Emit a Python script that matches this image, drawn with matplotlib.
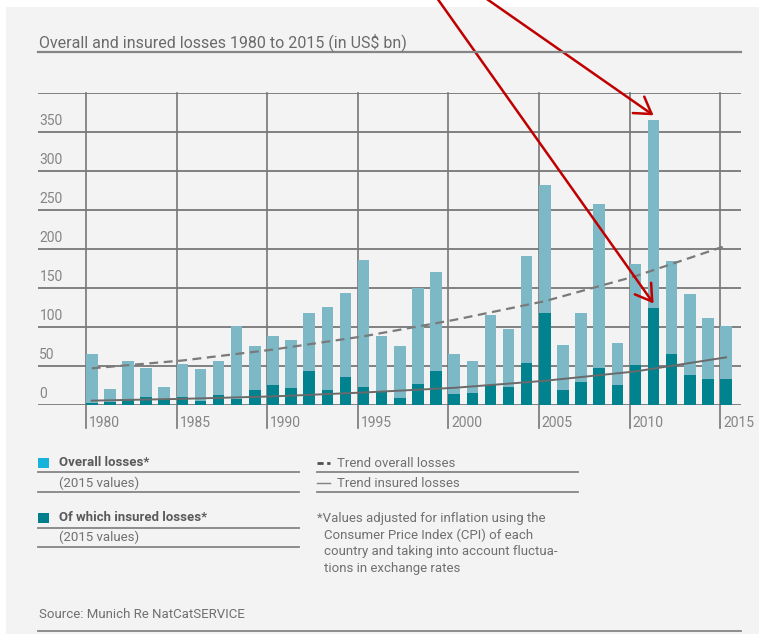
import numpy as np
import matplotlib
matplotlib.use("Agg")
import matplotlib.pyplot as plt

# Natural catastrophe losses, US$ bn in 2015 values
years = list(range(1980, 2016))
overall_losses = [65, 20, 56, 47, 23, 53, 46, 56, 101, 76, 88, 83, 118, 125, 144, 186,
                  88, 76, 150, 170, 65, 56, 115, 97, 191, 282, 77, 118, 258, 79,
                  180, 365, 185, 142, 111, 101]
insured_losses = [3, 4, 8, 10, 8, 10, 5, 13, 8, 19, 26, 22, 44, 19, 36, 23,
                  18, 9, 27, 44, 14, 16, 25, 23, 54, 118, 19, 30, 47, 25,
                  51, 124, 65, 39, 33, 33]

# Trend lines, read at five-year steps
trend_years = [1980, 1985, 1990, 1995, 2000, 2005, 2010, 2015]
trend_overall = [47, 57, 71, 88, 109, 133, 165, 204]
trend_insured = [5.6, 7.9, 11, 16, 22, 31, 43, 61]

y_ticks = [0, 50, 100, 150, 200, 250, 300, 350]
x_ticks = [1980, 1985, 1990, 1995, 2000, 2005, 2010, 2015]

W, H = 759, 634
BG = "#f3f3f3"
LIGHT = "#7db8c6"
DARK = "#00828f"
GRID = "#777777"
TEXT = "#707070"
FONTS = ["Liberation Sans Narrow", "Roboto", "DejaVu Sans"]
plt.rcParams["font.family"] = FONTS

fig = plt.figure(figsize=(W / 100, H / 100), dpi=100)
fig.patch.set_facecolor("white")


def fx(px):
    return px / W


def fy(py):
    return 1 - py / H


# light panel behind everything
fig.add_artist(plt.Rectangle((fx(6), 0), 1, fy(7), transform=fig.transFigure,
                             facecolor=BG, edgecolor="none", zorder=-10))

ax = fig.add_axes([fx(38), fy(405), fx(741) - fx(38), fy(92.7) - fy(405)])
ax.set_facecolor("none")
bar_w = 0.635
x0 = 1980 - 48 / 18.12
x1 = 2015 + 20.7 / 18.12
ax.set_xlim(x0, x1)
ax.set_ylim(0, 400)
for s in ax.spines.values():
    s.set_visible(False)
ax.set_xticks([])
ax.set_yticks([])

# grid
for v in y_ticks + [400]:
    ax.axhline(v, color=GRID, lw=1.3, zorder=1)
below = -23 / 0.781
for yr in x_ticks:
    ax.plot([yr, yr], [below, 400], color=GRID, lw=1.2, zorder=1, clip_on=False)

ax.bar(years, overall_losses, width=bar_w, align="edge", color=LIGHT, zorder=2)
ax.bar(years, insured_losses, width=bar_w, align="edge", color=DARK, zorder=3)

tx = [t + bar_w / 2 for t in trend_years]
tx[0] = 1980 + bar_w / 2
ax.plot(tx, trend_overall, color="#7a7a7a", lw=1.6, ls=(0, (4, 2.5)), zorder=4)
ax.plot(tx, trend_insured, color="#6a6a6a", lw=1.4, zorder=4)

for v in y_ticks:
    ax.annotate(str(v), xy=(0, v), xycoords=("axes fraction", "data"),
                xytext=(1, 7.7), textcoords="offset points", ha="left", va="center",
                fontsize=10, color="#858585")
for yr in x_ticks:
    ax.annotate(str(yr), xy=(yr, 0), xytext=(2, -12.7), textcoords="offset points",
                ha="left", va="center", fontsize=10, color="#858585",
                annotation_clip=False)

# red arrows pointing at 2011
peak = years.index(2011)
arrow = dict(arrowstyle="->,head_length=1.15,head_width=0.72", color="#c00000",
             lw=1.8, mutation_scale=10, shrinkA=0, shrinkB=0)
ax.annotate("", xy=(2011 + bar_w / 2, overall_losses[peak] + 6),
            xytext=(473.9, H + 10), textcoords="figure pixels",
            arrowprops=arrow, annotation_clip=False, zorder=6)
ax.annotate("", xy=(2011 + bar_w / 2, insured_losses[peak] + 6),
            xytext=(431.3, H + 10), textcoords="figure pixels",
            arrowprops=arrow, annotation_clip=False, zorder=6)


def hline(y, xa, xb, lw=1.3, color="#858585"):
    fig.add_artist(plt.Line2D([fx(xa), fx(xb)], [fy(y), fy(y)], transform=fig.transFigure,
                              color=color, lw=lw))


def label(x, y, s, **kw):
    kw.setdefault("color", TEXT)
    kw.setdefault("fontsize", 9.5)
    fig.text(fx(x), fy(y), s, ha="left", va="center", **kw)


# title
label(39, 42, "Overall and insured losses 1980 to 2015 (in US$ bn)", fontsize=11.5,
      color="#6a6a6a")
hline(51.7, 38, 741, lw=1.6)

# legend, left block
fig.add_artist(plt.Rectangle((fx(38), fy(468.3)), fx(11.3), fy(458.3) - fy(468.3),
                             transform=fig.transFigure, facecolor="#16b3da", edgecolor="none"))
fig.add_artist(plt.Rectangle((fx(38), fy(523.3)), fx(11.3), fy(513.3) - fy(523.3),
                             transform=fig.transFigure, facecolor="#007e8c", edgecolor="none"))
label(58.7, 462.7, "Overall losses*", fontweight="bold", color="#5a5a5a")
label(58.7, 483.3, "(2015 values)")
label(58.7, 517.7, "Of which insured losses*", fontweight="bold", color="#5a5a5a")
label(58.7, 537.3, "(2015 values)")
for y in (472.3, 492.3, 527.7, 546.7):
    hline(y, 38, 298.7)

# legend, right block
fig.add_artist(plt.Line2D([fx(317.3), fx(330)], [fy(463.3), fy(463.3)],
                          transform=fig.transFigure, color="#505050", lw=2,
                          ls=(0, (2.2, 1.3))))
fig.add_artist(plt.Line2D([fx(317.3), fx(330)], [fy(483.3), fy(483.3)],
                          transform=fig.transFigure, color="#808080", lw=1))
label(337.3, 463.3, "Trend overall losses")
label(337.3, 483.3, "Trend insured losses")
for y in (472.3, 492.3):
    hline(y, 317.3, 577.7)

note = ["*Values adjusted for inflation using the",
        "Consumer Price Index (CPI) of each",
        "country and taking into account fluctua-",
        "tions in exchange rates"]
for i, line in enumerate(note):
    label(317.3 if i == 0 else 324, 518.7 + i * 16.5, line, fontsize=9.5)

label(39.3, 615, "Source: Munich Re NatCatSERVICE", fontsize=9.5)
hline(630.5, 38, 741)

fig.savefig("out.png", dpi=100, facecolor=fig.get_facecolor())
